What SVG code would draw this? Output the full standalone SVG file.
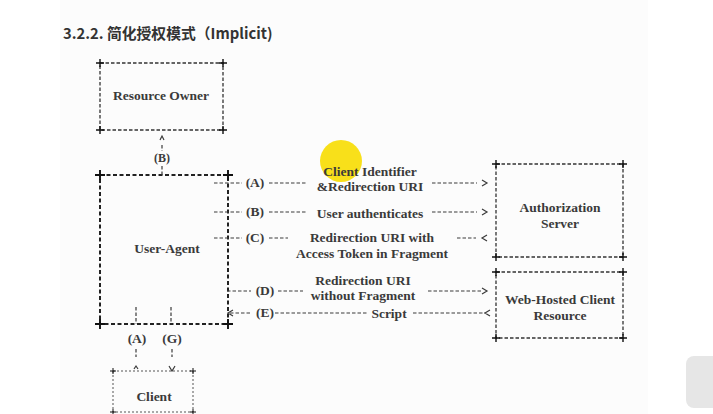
<svg xmlns="http://www.w3.org/2000/svg" width="713" height="414" viewBox="0 0 713 414">
<style>
.t{font-family:"Liberation Serif","Times New Roman",serif;font-weight:bold;font-size:13.5px;fill:#3a3a3a;text-anchor:middle}
.d{stroke:#3a3a3a;stroke-width:1.2;stroke-dasharray:3.5 2;fill:none}
.box{stroke:#333;stroke-width:1.3;stroke-dasharray:3.5 2;fill:none}
.bold{stroke:#222;stroke-width:2;stroke-dasharray:4 2.5;fill:none}
.thin{stroke:#555;stroke-width:1;stroke-dasharray:2 2;fill:none}
.pl{stroke:#111;stroke-width:1.4;fill:none}
.ch{stroke:#3a3a3a;stroke-width:1.2;fill:none}
</style>
<rect width="713" height="414" fill="#ffffff"/>
<rect x="60" y="0" width="588" height="414" fill="#fcfcfc"/>
<text x="63" y="39" font-family="'Noto Sans CJK SC','Noto Sans',sans-serif" font-weight="bold" font-size="14.8" fill="#333">3.2.2. 简化授权模式（Implicit)</text>

<circle cx="341" cy="161" r="21" fill="#f8e01a"/>

<g id="resource-owner">
<rect class="box" x="100" y="63" width="123" height="67"/>
<path class="pl" d="M96 63h8M100 59v8M219 63h8M223 59v8M96 130h8M100 126v8M219 130h8M223 126v8"/>
<text class="t" x="161" y="100">Resource Owner</text>
</g>

<g id="user-agent">
<rect class="bold" x="100" y="175" width="128" height="149"/>
<path class="pl" style="stroke-width:1.9" d="M95 175h10M100 170v10M223 175h10M228 170v10M95 324h10M100 319v10M223 324h10M228 319v10"/>
<text class="t" x="167" y="253">User-Agent</text>
</g>

<g id="authorization-server">
<rect class="box" x="496" y="164" width="127" height="93"/>
<path class="pl" d="M492 164h8M496 160v8M619 164h8M623 160v8M492 257h8M496 253v8M619 257h8M623 253v8"/>
<text class="t" x="560" y="212">Authorization</text>
<text class="t" x="560" y="228">Server</text>
</g>

<g id="web-hosted-client-resource">
<rect class="box" x="496" y="272" width="127" height="66"/>
<path class="pl" d="M492 272h8M496 268v8M619 272h8M623 268v8M492 338h8M496 334v8M619 338h8M623 334v8"/>
<text class="t" x="560" y="304">Web-Hosted Client</text>
<text class="t" x="560" y="320">Resource</text>
</g>

<g id="client">
<rect class="thin" x="113" y="371" width="80" height="41"/>
<path class="pl" style="stroke-width:1" d="M110 371h6M113 368v6M190 371h6M193 368v6M110 412h6M113 409v6M190 412h6M193 409v6"/>
<text class="t" x="154" y="401">Client</text>
</g>

<g id="connectors">
<path class="ch" d="M160 140l2-4 2 4"/>
<path class="d" d="M162 145v6M162 166v9"/>
<text class="t" x="162" y="162" style="font-size:12px">(B)</text>
<path class="d" d="M214 183h28M269 183h38M432 183h45"/>
<path class="ch" d="M482 180l5 3-5 3"/>
<text class="t" x="255" y="187">(A)</text>
<text class="t" x="370" y="176">Client Identifier</text>
<text class="t" x="370" y="191">&amp;Redirection URI</text>
<path class="d" d="M214 212h28M269 212h38M432 212h45"/>
<path class="ch" d="M482 209l5 3-5 3"/>
<text class="t" x="255" y="216">(B)</text>
<text class="t" x="370" y="218">User authenticates</text>
<path class="d" d="M214 238h28M269 238h19M457 238h19"/>
<path class="ch" d="M487 235l-5 3 5 3"/>
<text class="t" x="255" y="242">(C)</text>
<text class="t" x="372" y="242">Redirection URI with</text>
<text class="t" x="372" y="258">Access Token in Fragment</text>
<path class="d" d="M227 291h24M278 291h25M428 291h55"/>
<path class="ch" d="M482 288l5 3-5 3"/>
<text class="t" x="265" y="295">(D)</text>
<text class="t" x="363" y="285">Redirection URI</text>
<text class="t" x="363" y="300">without Fragment</text>
<path class="d" d="M230 313h21M275 313h92M413 313h72"/>
<path class="ch" d="M233 310l-5 3 5 3M490 310l-5 3 5 3"/>
<text class="t" x="265" y="317">(E)</text>
<text class="t" x="389" y="318">Script</text>
<path class="d" d="M136 307v17M171 307v17M136 349v8M172 349v8"/>
<text class="t" x="137" y="343">(A)</text>
<text class="t" x="172" y="343">(G)</text>
<path class="ch" d="M134 369l2-3 2 3M169 366l3 5 3-5"/>
</g>

<rect x="686" y="356" width="34" height="52" rx="8" fill="#e6e6e6"/>
</svg>
